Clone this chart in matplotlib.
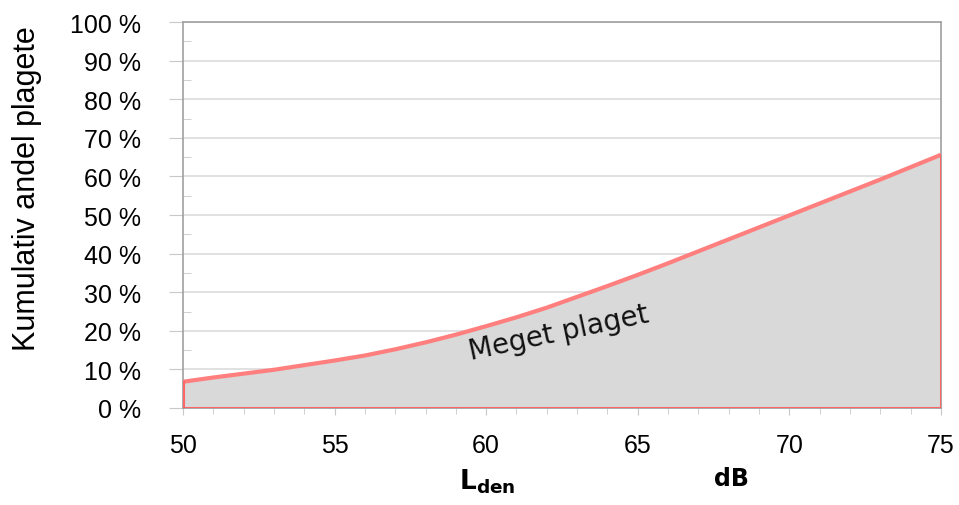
import numpy as np
import matplotlib.pyplot as plt
from matplotlib.ticker import MultipleLocator, FuncFormatter

# cumulative share highly annoyed (%) vs Lden (dB)
lden = [50, 51, 52, 53, 54, 55, 56, 57, 58, 59, 60, 61, 62,
        63, 64, 65, 66, 67, 68, 69, 70, 71, 72, 73, 74, 75]
andel = [6.8, 7.9, 8.9, 9.9, 11.1, 12.3, 13.6, 15.2, 17.0, 19.0, 21.2, 23.5, 26.0,
         28.8, 31.6, 34.5, 37.5, 40.6, 43.7, 46.8, 49.9, 53.0, 56.1, 59.2, 62.4, 65.6]

label_text = "Meget plaget"

plt.rcParams['font.family'] = ['Liberation Sans', 'DejaVu Sans']

fig = plt.figure(figsize=(9.59, 5.06), dpi=100)
ax = fig.add_axes([0.1908, 0.1917, 0.7904, 0.7628])

x = np.array(lden)
y = np.array(andel)

ax.fill_between(x, 0, y, color='#d9d9d9', zorder=1)
ax.plot(x, y, color='#ff7f7f', lw=3, zorder=3, solid_capstyle='butt')
# outline of the area
ax.plot([x[0], x[0], x[-1], x[-1]], [y[0], 0, 0, y[-1]],
        color='#ff6666', lw=2.2, zorder=3)

ax.set_xlim(50, 75)
ax.set_ylim(0, 100)

ax.yaxis.set_major_locator(MultipleLocator(10))
ax.yaxis.set_minor_locator(MultipleLocator(5))
ax.xaxis.set_major_locator(MultipleLocator(5))
ax.xaxis.set_minor_locator(MultipleLocator(1))
ax.yaxis.set_major_formatter(FuncFormatter(lambda v, p: f"{int(v)} %"))

ax.grid(axis='y', color='#dcdcdc', lw=1.2, zorder=0)
ax.set_axisbelow(True)

for s in ['left', 'top', 'right', 'bottom']:
    ax.spines[s].set_color('#a0a0a0')
    ax.spines[s].set_linewidth(1.2)

ax.tick_params(axis='y', which='major', direction='out', length=10,
               color='#c8c8c8', labelsize=18, pad=20)
ax.tick_params(axis='y', which='minor', direction='in', length=6, color='#c8c8c8')
ax.tick_params(axis='x', which='major', direction='inout', length=10,
               color='#c8c8c8', labelsize=18, pad=13)
ax.tick_params(axis='x', which='minor', direction='inout', length=8, color='#c8c8c8')

fig.text(0.028, 0.628, "Kumulativ andel plagete", rotation=90, fontsize=22,
         va='center', ha='center')

fig.text(0.479, 0.02, r"L$_{\mathbf{den}}$", fontsize=19, fontweight='bold',
         family='DejaVu Sans', ha='left', va='bottom')
fig.text(0.763, 0.03, "dB", fontsize=17, fontweight='bold',
         family='DejaVu Sans', ha='center', va='bottom')

ax.text(62.4, 19.6, label_text, rotation=12, fontsize=20, family='DejaVu Sans',
        ha='center', va='center', zorder=4, color='#111111')

fig.savefig('out.png', dpi=100)
